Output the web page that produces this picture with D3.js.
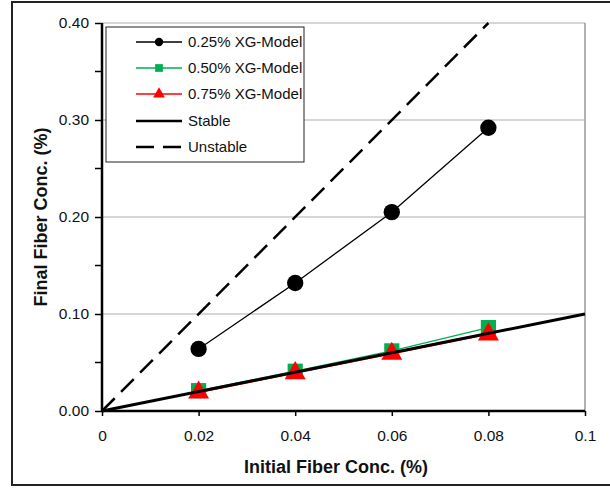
<!DOCTYPE html>
<html>
<head>
<meta charset="utf-8">
<script src="https://cdn.jsdelivr.net/npm/d3@7"></script>
<style>
	body { margin: 0; background: #fff; }
	svg { font-family: "Liberation Sans", Arial, sans-serif; }
</style>
</head>
<body>
<div id="chart"></div>
<script>

var initialConc = [0.02, 0.04, 0.06, 0.08]
var xg025 = [0.064, 0.132, 0.205, 0.292]
var xg050 = [0.021, 0.041, 0.062, 0.086]
var xg075 = [0.019, 0.039, 0.059, 0.079]

var stableX = [0, 0.1]
var stableY = [0, 0.1]
var unstableX = [0, 0.08]
var unstableY = [0, 0.4]

var xTicks = [0, 0.02, 0.04, 0.06, 0.08, 0.1]
var xTickLabels = ["0", "0.02", "0.04", "0.06", "0.08", "0.1"]
var yTicks = [0, 0.1, 0.2, 0.3, 0.4]
var yMinorTicks = [0.05, 0.15, 0.25, 0.35]

var legendLabels = ["0.25% XG-Model", "0.50% XG-Model", "0.75% XG-Model", "Stable", "Unstable"]

var width = 610, height = 488
var margin = {top: 23, right: 25, bottom: 77, left: 102}
var innerW = width - margin.left - margin.right
var innerH = height - margin.top - margin.bottom

var svg = d3.select("#chart").append("svg")
	.attr("width", width)
	.attr("height", height)

// outer frame
svg.append("rect")
	.attr("x", 12).attr("y", 2)
	.attr("width", 610).attr("height", 483)
	.attr("fill", "none")
	.attr("stroke", "#222")
	.attr("stroke-width", 2)

var g = svg.append("g").attr("transform", "translate(" + margin.left + "," + margin.top + ")")

var x = d3.scaleLinear().domain([0, 0.1]).range([0, innerW])
var y = d3.scaleLinear().domain([0, 0.4]).range([innerH, 0])

// gridlines
g.selectAll(".grid")
	.data(yTicks.filter(function(d) { return d > 0 }))
	.enter().append("line")
	.attr("x1", 0).attr("x2", innerW)
	.attr("y1", function(d) { return y(d) })
	.attr("y2", function(d) { return y(d) })
	.attr("stroke", "#c8c8c8")
	.attr("stroke-width", 1.5)

// right border of plot
g.append("line")
	.attr("x1", innerW).attr("x2", innerW)
	.attr("y1", 0).attr("y2", innerH)
	.attr("stroke", "#999")
	.attr("stroke-width", 1.5)

// axes
var xAxis = d3.axisBottom(x).tickValues(xTicks).tickFormat(function(d, i) { return xTickLabels[i] }).tickSize(5).tickPadding(14)
var yAxis = d3.axisLeft(y).tickValues(yTicks).tickFormat(d3.format(".2f")).tickSize(7).tickPadding(6)

var gx = g.append("g")
	.attr("transform", "translate(0," + innerH + ")")
	.call(xAxis)
gx.select(".domain").attr("stroke-width", 2.5).attr("d", "M0,0H" + innerW)
gx.selectAll(".tick line").attr("stroke-width", 1.5)
gx.selectAll("text").attr("font-size", 15.5).attr("fill", "#111")

var gy = g.append("g").call(yAxis)
gy.select(".domain").attr("stroke-width", 2.5).attr("d", "M0," + innerH + "V0")
gy.selectAll(".tick line").attr("stroke-width", 1.5)
gy.selectAll("text").attr("font-size", 15.5).attr("fill", "#111")

g.append("g").selectAll("line")
	.data(yMinorTicks)
	.enter().append("line")
	.attr("x1", -7).attr("x2", 0)
	.attr("y1", function(d) { return y(d) })
	.attr("y2", function(d) { return y(d) })
	.attr("stroke", "#000")
	.attr("stroke-width", 1.5)

// axis titles
svg.append("text")
	.attr("x", 336)
	.attr("y", 473)
	.attr("text-anchor", "middle")
	.attr("font-size", 18)
	.attr("font-weight", "bold")
	.attr("fill", "#111")
	.text("Initial Fiber Conc.  (%)")

svg.append("text")
	.attr("transform", "translate(47," + 217 + ") rotate(-90)")
	.attr("text-anchor", "middle")
	.attr("font-size", 18)
	.attr("font-weight", "bold")
	.attr("fill", "#111")
	.text("Final Fiber Conc.  (%)")

var line = d3.line().x(function(d) { return x(d[0]) }).y(function(d) { return y(d[1]) })

// reference lines
g.append("path")
	.datum(d3.zip(unstableX, unstableY))
	.attr("d", line)
	.attr("fill", "none")
	.attr("stroke", "#000")
	.attr("stroke-width", 2.5)
	.attr("stroke-dasharray", "18,9")

// series
var series = [
	{vals: xg025, color: "#000", marker: "circle"},
	{vals: xg050, color: "#00b050", marker: "square"},
	{vals: xg075, color: "#ff0000", marker: "triangle"}
]

series.forEach(function(s) {
	g.append("path")
		.datum(d3.zip(initialConc, s.vals))
		.attr("d", line)
		.attr("fill", "none")
		.attr("stroke", s.color)
		.attr("stroke-width", 1.3)
})

var symbols = {
	circle: d3.symbol().type(d3.symbolCircle).size(210),
	square: d3.symbol().type(d3.symbolSquare).size(230),
	triangle: d3.symbol().type(d3.symbolTriangle).size(190)
}
var smallSymbols = {
	circle: d3.symbol().type(d3.symbolCircle).size(55),
	square: d3.symbol().type(d3.symbolSquare).size(60),
	triangle: d3.symbol().type(d3.symbolTriangle).size(60)
}

series.forEach(function(s) {
	g.append("g").selectAll("path")
		.data(d3.zip(initialConc, s.vals))
		.enter().append("path")
		.attr("transform", function(d) { return "translate(" + x(d[0]) + "," + y(d[1]) + ")" })
		.attr("d", symbols[s.marker])
		.attr("fill", s.color)
})

// stable line drawn above markers as in the reference
g.append("path")
	.datum(d3.zip(stableX, stableY))
	.attr("d", line)
	.attr("fill", "none")
	.attr("stroke", "#000")
	.attr("stroke-width", 3)

// legend
var legend = svg.append("g")
legend.append("rect")
	.attr("x", 106).attr("y", 27)
	.attr("width", 198).attr("height", 135)
	.attr("fill", "#fff")
	.attr("stroke", "#222")
	.attr("stroke-width", 1)

var rowY = [42, 68, 94, 121, 147]
legendLabels.forEach(function(lab, i) {
	var ly = rowY[i]
	var l = legend.append("line")
		.attr("x1", 136).attr("x2", 182)
		.attr("y1", ly).attr("y2", ly)
	if (i < 3) {
		l.attr("stroke", series[i].color).attr("stroke-width", 1.3)
		legend.append("path")
			.attr("transform", "translate(159," + ly + ")")
			.attr("d", smallSymbols[series[i].marker])
			.attr("fill", series[i].color)
	} else {
		l.attr("stroke", "#000").attr("stroke-width", 2.5)
		if (i == 4) l.attr("stroke-dasharray", "18,9")
	}
	legend.append("text")
		.attr("x", 188).attr("y", ly + 5)
		.attr("font-size", 15)
		.attr("fill", "#111")
		.text(lab)
})

</script>
</body>
</html>
